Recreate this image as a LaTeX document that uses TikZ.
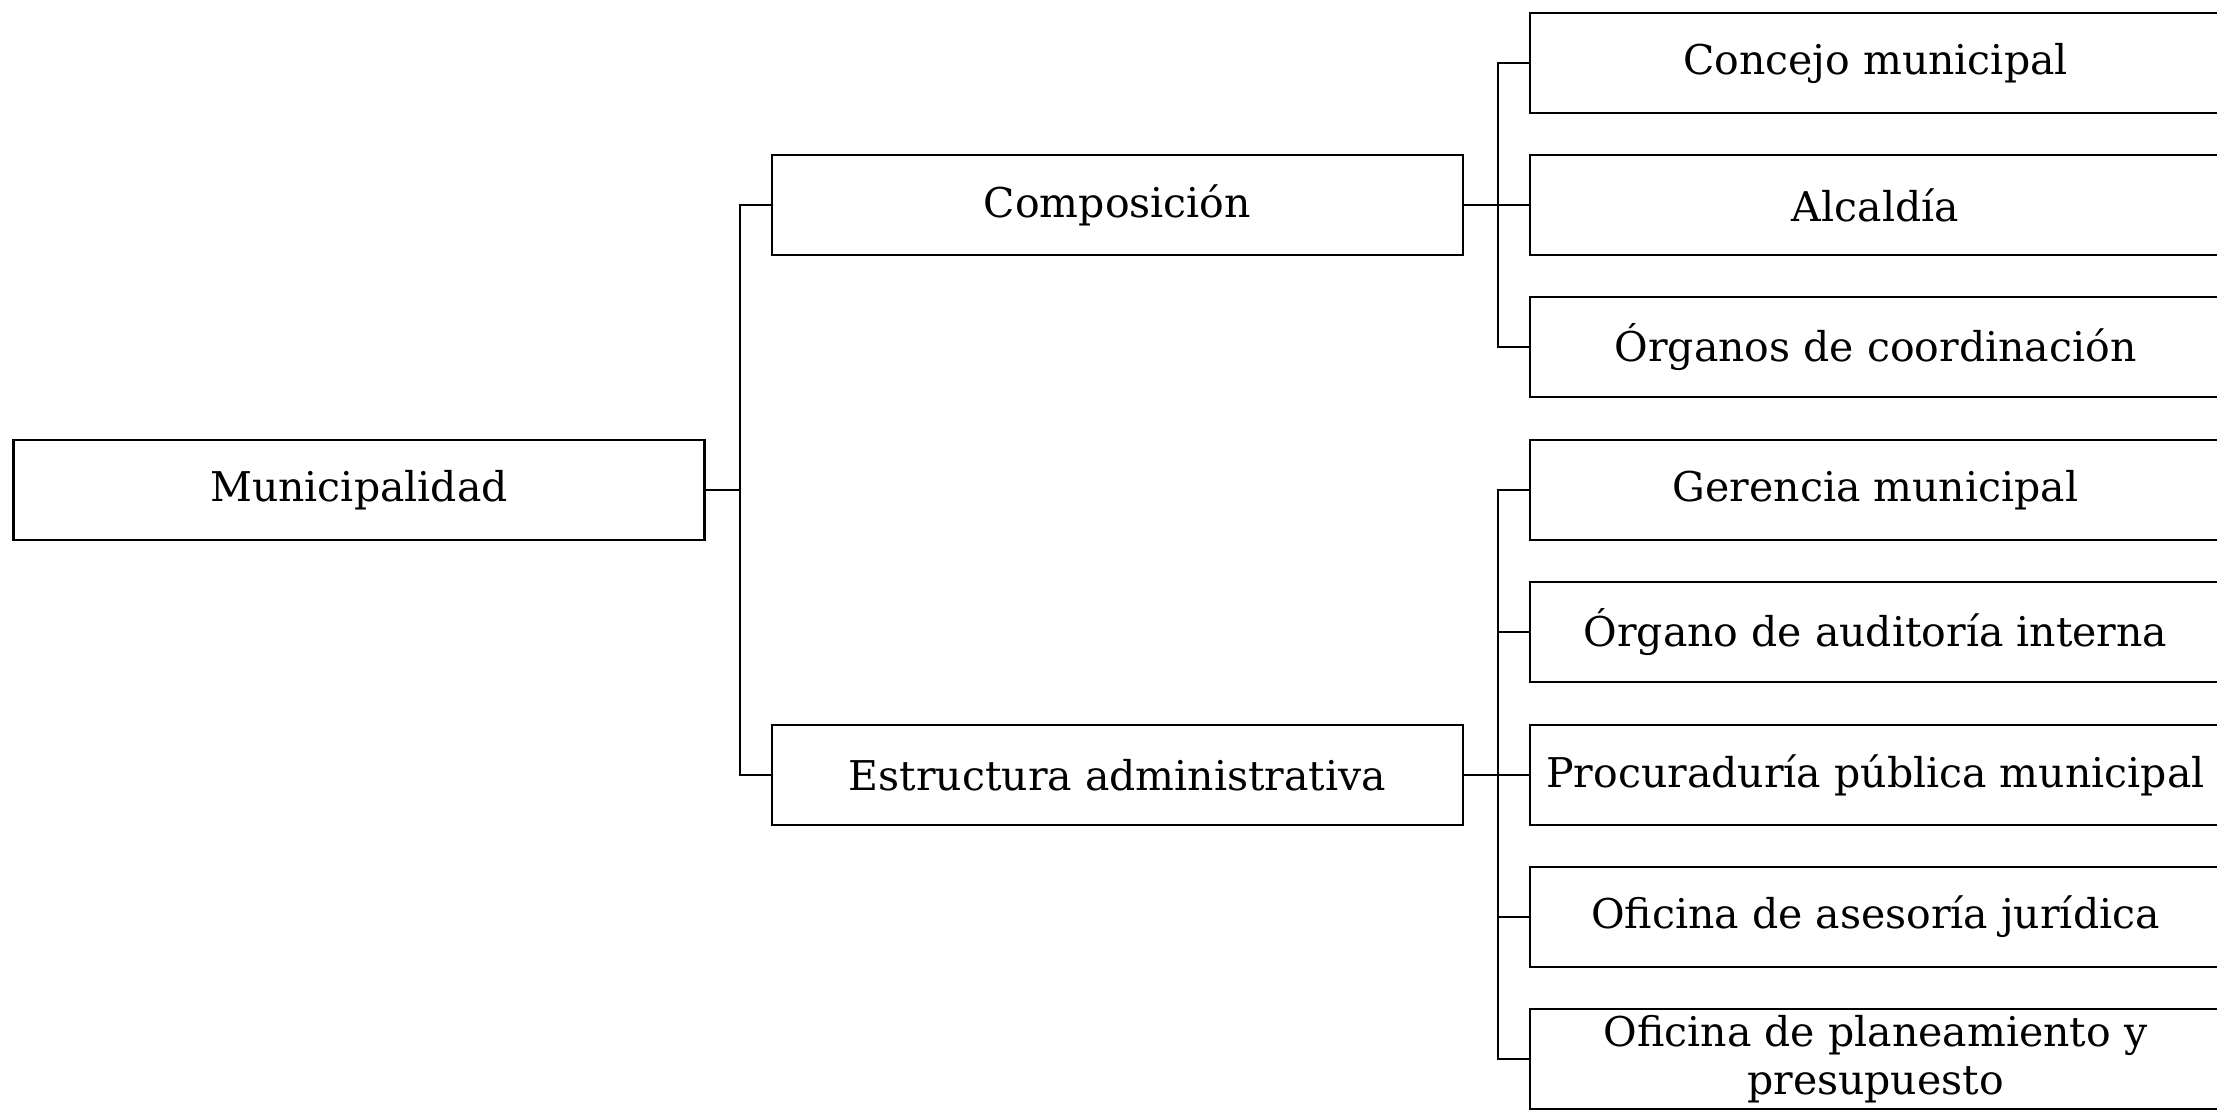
\documentclass[tikz,border=0pt]{standalone}
\usepackage{fontspec}
\setmainfont{DejaVu Serif}
\begin{document}
\begin{tikzpicture}[x=1pt,y=-1pt,
  box/.style={draw, line width=2.6pt, minimum width=691pt, minimum height=100pt, inner sep=0pt, align=center, font=\fontsize{41}{48}\selectfont},
  link/.style={line width=2.2pt}]
\useasboundingbox (0,0) rectangle (2217,1109);
\fill[white] (0,0) rectangle (2217,1109);
\clip (0,0) rectangle (2217,1109);
\node[box] (mun) at (359,490) {Municipalidad};
\node[box] (comp) at (1117.5,205) {Composición};
\node[box] (estr) at (1117.5,775) {Estructura administrativa};
\node[box] (r1) at (1875.5,63) {Concejo municipal};
\node[box] (r2) at (1875.5,205) {Alcaldía};
\node[box] (r3) at (1875.5,347) {Órganos de coordinación};
\node[box] (r4) at (1875.5,490) {Gerencia municipal};
\node[box] (r5) at (1875.5,632) {Órgano de auditoría interna};
\node[box] (r6) at (1875.5,775) {Procuraduría pública municipal};
\node[box] (r7) at (1875.5,917) {Oficina de asesoría jurídica};
\node[box] (r8) at (1875.5,1059) {Oficina de planeamiento y\\presupuesto};
\draw[link] (mun.east) -- ++(34,0) |- (comp.west);
\draw[link] (mun.east) -- ++(34,0) |- (estr.west);
\foreach \n in {r1,r2,r3}{\draw[link] (comp.east) -- ++(34,0) |- (\n.west);}
\foreach \n in {r4,r5,r6,r7,r8}{\draw[link] (estr.east) -- ++(34,0) |- (\n.west);}
\end{tikzpicture}
\end{document}
